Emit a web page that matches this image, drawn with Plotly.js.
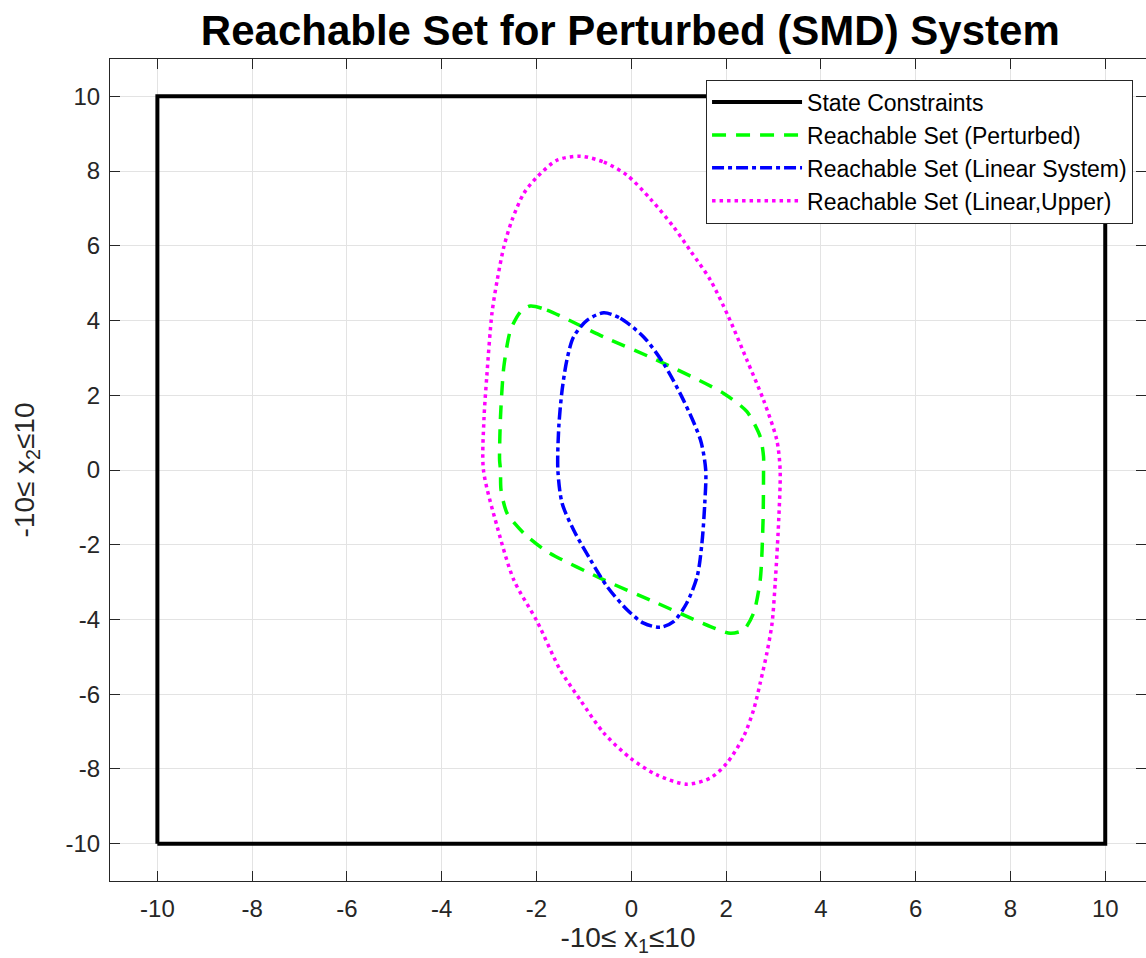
<!DOCTYPE html>
<html>
<head>
<meta charset="utf-8">
<script src="https://cdn.plot.ly/plotly-3.0.1.min.js"></script>
<style>html,body{margin:0;padding:0;background:#fff;overflow:hidden;}</style>
</head>
<body>
<div id="chart" style="width:1146px;height:958px;"></div>
<script>
// Data
const constraintX = [-10, 10, 10, -10, -10];
const constraintY = [-10, -10, 10, 10, -10];

const perturbedX = [-2.13, -1.78, -0.58, 0.54, 1.95, 2.44, 2.72, 2.79, 2.79, 2.78, 2.72, 2.58, 2.37, 2.09, 1.67, 0.54, -0.58, -1.78, -2.27, -2.62, -2.75, -2.76, -2.78, -2.76, -2.69, -2.55, -2.34, -2.13];
const perturbedY = [4.39, 4.28, 3.56, 2.94, 2.05, 1.56, 0.89, 0.36, 0.0, -1.34, -2.94, -3.83, -4.28, -4.37, -4.19, -3.56, -2.94, -2.18, -1.69, -1.16, -0.53, 0.0, 0.27, 1.43, 2.76, 3.74, 4.23, 4.39];

const linearX = [-0.58, -0.23, 0.26, 0.68, 1.10, 1.46, 1.57, 1.55, 1.49, 1.39, 1.17, 0.89, 0.61, 0.26, -0.09, -0.51, -0.86, -1.22, -1.46, -1.55, -1.53, -1.46, -1.36, -1.22, -0.93, -0.58];
const linearY = [4.21, 4.06, 3.56, 2.85, 1.87, 0.80, 0.0, -0.89, -1.96, -2.85, -3.56, -4.06, -4.21, -4.10, -3.74, -3.12, -2.41, -1.60, -0.89, 0.0, 1.16, 2.14, 2.94, 3.56, 4.01, 4.21];

const upperX = [-1.08, -0.58, -0.09, 0.40, 0.89, 1.24, 1.67, 2.05, 2.44, 2.79, 3.07, 3.14, 3.11, 3.04, 2.97, 2.86, 2.72, 2.58, 2.37, 2.02, 1.67, 1.17, 0.54, -0.02, -0.58, -1.08, -1.50, -1.99, -2.48, -2.83, -3.12, -3.11, -3.05, -2.94, -2.83, -2.69, -2.52, -2.27, -1.99, -1.57, -1.08];
const upperY = [8.40, 8.24, 7.89, 7.26, 6.51, 5.88, 5.08, 4.10, 2.94, 1.87, 0.80, 0.0, -1.34, -2.94, -4.10, -4.90, -5.70, -6.42, -7.13, -7.84, -8.24, -8.41, -8.16, -7.71, -7.04, -6.15, -5.35, -4.05, -2.94, -1.52, 0.0, 1.34, 2.50, 4.20, 5.08, 5.97, 6.68, 7.40, 7.84, 8.29, 8.40];

const tickVals = [-10, -8, -6, -4, -2, 0, 2, 4, 6, 8, 10];
const tickText = ['-10', '-8', '-6', '-4', '-2', '0', '2', '4', '6', '8', '10'];

const FONT = 'Liberation Sans, Arial, Helvetica, sans-serif';
const AX = '#262626';

const traces = [
  {x: constraintX, y: constraintY, mode: 'lines', name: 'State Constraints',
   line: {color: '#000000', width: 4}},
  {x: perturbedX, y: perturbedY, mode: 'lines', name: 'Reachable Set (Perturbed)',
   line: {color: '#00ff00', width: 3.5, dash: '14px,10px', shape: 'spline', smoothing: 0.7}},
  {x: linearX, y: linearY, mode: 'lines', name: 'Reachable Set (Linear System)',
   line: {color: '#0000ff', width: 3.5, dash: '12px,4px,4px,4px', shape: 'spline', smoothing: 0.8}},
  {x: upperX, y: upperY, mode: 'lines', name: 'Reachable Set (Linear,Upper)',
   line: {color: '#ff00ff', width: 3.5, dash: '3.5px,4px', shape: 'spline', smoothing: 0.8}}
];

const axisCommon = {
  tickvals: tickVals, ticktext: tickText,
  showgrid: true, gridcolor: '#e3e3e3', gridwidth: 1,
  zeroline: false, showline: true, linecolor: AX, linewidth: 1,
  ticks: 'inside', ticklen: 10, tickcolor: AX, tickwidth: 1,
  mirror: 'ticks',
  tickfont: {family: FONT, size: 24, color: AX}
};

const layout = {
  width: 1146, height: 958,
  paper_bgcolor: '#ffffff', plot_bgcolor: '#ffffff',
  margin: {l: 110, r: 0, t: 58.5, b: 76.5},
  title: {text: '<b>Reachable Set for Perturbed (SMD) System</b>',
          font: {family: FONT, size: 42, color: '#000000'},
          x: 0.55, xref: 'container', y: 1 - 30/958, yref: 'container', yanchor: 'middle'},
  xaxis: Object.assign({}, axisCommon, {
    range: [-11, 10.86],
    ticklabelstandoff: 6,
    title: {text: '-10≤ x<sub>1</sub>≤10', font: {family: FONT, size: 28, color: AX}, standoff: 2}
  }),
  yaxis: Object.assign({}, axisCommon, {
    range: [-11, 11],
    ticklabelstandoff: 4,
    title: {text: '-10≤ x<sub>2</sub>≤10', font: {family: FONT, size: 28, color: AX}, standoff: 22}
  }),
  showlegend: true,
  legend: {
    x: 0.9875, xanchor: 'right', y: 0.975, yanchor: 'top',
    bgcolor: '#ffffff', bordercolor: AX, borderwidth: 1,
    font: {family: FONT, size: 23, color: '#000000'},
    itemwidth: 90, tracegroupgap: 0
  }
};

Plotly.newPlot('chart', traces, layout, {displayModeBar: false, staticPlot: true});
</script>
</body>
</html>
